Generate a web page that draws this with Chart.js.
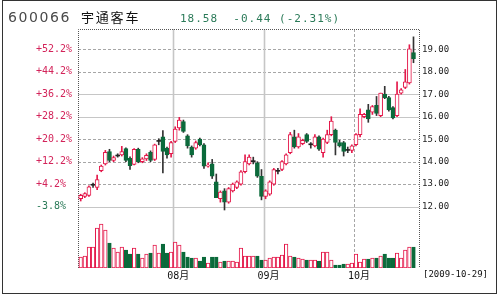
<!DOCTYPE html>
<html>
<head>
<meta charset="utf-8">
<script src="https://cdn.jsdelivr.net/npm/chart.js@4/dist/chart.umd.min.js"></script>
<style>
body { margin: 0; background: #fff; }
#box { position: relative; width: 500px; height: 299px; overflow: hidden; }
#frame { position: absolute; left: 2px; top: 0; width: 493px; height: 292px; border: 1px solid #333; pointer-events: none; }
.t { position: absolute; line-height: 1; white-space: pre; }
#code { left: 8px; top: 9px; font: 14px "DejaVu Sans"; letter-spacing: 1.6px; color: #4a4a4a; }
#name { left: 81px; top: 7px; font: 13px "Noto Sans CJK SC"; letter-spacing: 1.8px; color: #111; }
#quote { left: 180px; top: 12px; font: 11px "DejaVu Sans Mono"; letter-spacing: 1px; color: #2a7a58; }
#date { left: 423px; top: 269px; font: 9px "DejaVu Sans Mono"; color: #111; }
</style>
</head>
<body>
<div id="box">
  <canvas id="c" width="500" height="299"></canvas>
  <div id="frame"></div>
  <div class="t" id="code"></div>
  <div class="t" id="name"></div>
  <div class="t" id="quote"></div>
  <div class="t" id="date"></div>
</div>
<script>
// header texts
const stockCode = '600066';
const stockName = '宇通客车';
const lastPrice = '18.58';
const change = '-0.44';
const changePct = '(-2.31%)';
const lastDate = '[2009-10-29]';

// price base for the left % axis
const basePrice = 12.48;

// daily candles, 2009-07-01 .. 2009-10-29
const open  = [12.35,12.45,12.50,12.95,12.85,13.60,13.90,14.45,14.05,14.25, 14.30,14.58,14.15,13.88,14.55,14.00,14.12,14.42,14.10,14.90,
               15.10,14.60,14.35,14.90,15.50,15.78,15.15,14.65,14.60,15.00, 14.75,13.80,13.90,13.10,12.35,12.70,12.20,12.70,12.85,13.00,
               13.55,13.90,14.00,13.95,13.35,12.45,12.55,13.00,13.57,13.65, 13.90,14.40,15.10,14.65,14.80,15.20,14.75,14.70,15.10,14.40,
               14.85,15.20,15.40,14.85,14.85,14.50,14.50,14.75,15.20,16.00, 16.30,16.20,16.50,16.05,17.00,16.85,16.40,16.05,17.05,17.30,
               17.50,18.85];
const high  = [12.55,12.62,12.92,13.05,13.40,13.85,14.50,14.55,14.25,14.35, 14.68,14.62,14.22,14.58,14.60,14.18,14.35,14.48,14.78,15.02,
               15.38,14.65,14.90,15.55,15.97,15.85,15.20,14.70,14.92,15.05, 14.80,13.95,14.10,13.45,12.70,12.80,12.85,13.05,13.15,13.60,
               14.30,14.30,14.20,14.00,13.65,12.75,13.15,13.70,13.70,14.05, 14.35,15.30,15.40,15.25,15.00,15.25,14.85,15.20,15.15,15.05,
               15.40,16.00,15.45,14.95,14.90,14.65,14.75,15.25,16.35,16.15, 16.55,16.50,16.90,17.05,17.35,16.90,16.45,17.55,17.25,18.10,
               19.20,19.55];
const low   = [12.25,12.40,12.45,12.85,12.75,13.55,13.85,14.00,14.00,14.20, 14.25,14.00,13.65,13.85,13.95,13.95,14.05,14.00,14.05,14.75,
               13.50,14.15,14.20,14.85,15.40,15.30,14.60,14.20,14.55,14.70, 13.70,13.75,13.25,12.40,12.20,11.85,12.15,12.65,12.80,12.95,
               13.50,13.85,13.90,13.30,12.30,12.35,12.50,12.95,13.45,13.60, 13.85,14.35,14.60,14.60,14.75,14.85,14.60,14.65,14.50,14.20,
               14.80,15.15,14.30,14.65,14.25,14.40,14.40,14.70,15.10,15.95, 15.75,16.10,16.05,16.00,16.80,16.25,15.90,16.00,17.00,17.25,
               17.45,18.40];
const close = [12.50,12.58,12.88,12.95,13.20,13.80,14.42,14.05,14.18,14.25, 14.45,14.05,13.82,14.55,14.00,14.12,14.28,14.05,14.75,14.90,
               14.45,14.30,14.85,15.45,15.85,15.35,14.70,14.30,14.85,14.75, 13.80,13.85,13.35,12.40,12.65,12.20,12.80,13.00,13.10,13.55,
               14.00,14.20,14.00,13.35,12.45,12.70,13.10,13.65,13.57,14.00, 14.30,15.20,14.65,15.10,14.95,14.90,14.75,15.10,14.55,15.00,
               15.20,15.80,14.85,14.70,14.45,14.50,14.70,15.20,16.10,16.10, 15.90,16.45,16.15,17.05,16.85,16.30,15.95,17.00,17.20,17.55,
               19.02,18.58];
const volume = [11,12,21,21,40,44,38,25,20,16, 21,18,14,20,14,10,14,15,23,15, 24,15,16,26,23,16,11,10,10,7,
                11,5,11,11,6,7,7,7,6,20, 12,12,12,12,8,8,10,11,11,13, 24,12,11,10,9,8,8,8,7,16,
                16,8,3,3,4,4,5,14,6,9, 9,10,10,12,14,10,10,15,10,18, 21,21];

// x-axis month ticks (index of the first trading day of each month)
const monthLabels = ['08月', '09月', '10月'];
const monthStart = [23, 45, 67];
const monthLineDash = [[], [], [3, 2]];

// price axis ticks
const priceTicks = [12, 13, 14, 15, 16, 17, 18, 19];
const solidTicks = [12, 16, 17];

const RED = '#e4184a';
const GREEN = '#0b6a3b';
const DOJI = '#222';

document.getElementById('code').textContent = stockCode;
document.getElementById('name').textContent = stockName;
document.getElementById('quote').textContent = lastPrice + '  ' + change + ' ' + changePct;
document.getElementById('date').textContent = lastDate;

const idx = close.map((c, i) => i);
const kind = idx.map(i => close[i] > open[i] ? 'up' : close[i] < open[i] ? 'down' : 'doji');

const gridPlugin = {
  id: 'kgrid',
  beforeDatasetsDraw(chart) {
    const { ctx, chartArea: a, scales } = chart;
    ctx.save();
    ctx.lineWidth = 1;
    priceTicks.forEach(v => {
      const y = Math.round(scales.y.getPixelForValue(v)) + 0.5;
      const solid = solidTicks.includes(v);
      ctx.strokeStyle = solid ? '#c6c6c6' : '#a6a6a6';
      ctx.setLineDash(solid ? [] : [3, 2]);
      ctx.beginPath(); ctx.moveTo(a.left, y); ctx.lineTo(a.right, y); ctx.stroke();
    });
    monthStart.forEach((m, k) => {
      const x = Math.round(scales.x.getPixelForValue(m - 0.5)) + 0.5;
      const dash = monthLineDash[k];
      ctx.strokeStyle = dash.length ? '#a6a6a6' : '#c6c6c6';
      ctx.lineWidth = dash.length ? 1 : 1.6;
      ctx.setLineDash(dash);
      ctx.beginPath(); ctx.moveTo(x, a.top); ctx.lineTo(x, a.bottom); ctx.stroke();
    });
    ctx.lineWidth = 1;
    ctx.strokeStyle = '#555';
    ctx.setLineDash([1, 1]);
    const l = Math.round(a.left) + 0.5, r = Math.round(a.right) + 0.5, t = Math.round(a.top) + 0.5;
    ctx.beginPath();
    ctx.moveTo(l, a.bottom); ctx.lineTo(l, t); ctx.lineTo(r, t); ctx.lineTo(r, a.bottom);
    ctx.stroke();
    ctx.restore();
  }
};

const monoFont = { family: '"DejaVu Sans Mono", "Noto Sans CJK SC"', size: 10 };

new Chart(document.getElementById('c'), {
  type: 'bar',
  data: {
    datasets: [
      {
        label: 'body',
        order: 1,
        yAxisID: 'y',
        data: idx.map(i => ({ x: i, y: [open[i], close[i]] })),
        barThickness: 4,
        minBarLength: 1,
        grouped: false,
        borderSkipped: false,
        borderWidth: c => kind[c.dataIndex] === 'doji' ? 0 : 1,
        backgroundColor: c => ({ up: '#fff', down: GREEN, doji: DOJI })[kind[c.dataIndex]],
        borderColor: c => ({ up: RED, down: GREEN, doji: DOJI })[kind[c.dataIndex]]
      },
      {
        label: 'wick',
        order: 2,
        yAxisID: 'y',
        data: idx.map(i => ({ x: i, y: [low[i], high[i]] })),
        barThickness: 1,
        grouped: false,
        borderWidth: 0,
        backgroundColor: c => kind[c.dataIndex] === 'up' ? RED : '#333'
      },
      {
        label: 'volume',
        order: 3,
        yAxisID: 'yVol',
        data: idx.map(i => ({ x: i, y: volume[i] })),
        barThickness: 3.6,
        grouped: false,
        borderSkipped: false,
        borderWidth: 1,
        backgroundColor: c => kind[c.dataIndex] === 'down' ? GREEN : '#fff',
        borderColor: c => kind[c.dataIndex] === 'down' ? GREEN : RED
      }
    ]
  },
  options: {
    responsive: false,
    animation: false,
    devicePixelRatio: 1,
    layout: { padding: { top: 29, left: 36, right: 0, bottom: 0 } },
    plugins: { legend: { display: false }, tooltip: { enabled: false } },
    events: [],
    scales: {
      x: {
        type: 'linear',
        offset: false,
        min: -0.66,
        max: 82.34,
        grid: { display: false, drawTicks: false, offset: false },
        border: { display: false },
        afterBuildTicks: s => { s.ticks = monthStart.map(m => ({ value: m - 0.5 })); },
        afterFit: s => { s.height = 31; },
        ticks: {
          autoSkip: false, maxRotation: 0, padding: 2, labelOffset: 5,
          color: '#111', font: monoFont,
          callback: (v, i) => monthLabels[i]
        }
      },
      y: {
        position: 'right',
        min: 9.27,
        max: 19.9,
        grid: { display: false, drawTicks: false },
        border: { display: false },
        afterBuildTicks: s => { s.ticks = priceTicks.map(v => ({ value: v })); },
        afterFit: s => { s.width = 81; },
        ticks: {
          padding: 3, color: '#222',
          font: { family: '"DejaVu Sans Mono"', size: 9 },
          callback: v => v.toFixed(2)
        }
      },
      yPct: {
        position: 'left',
        min: 9.27,
        max: 19.9,
        grid: { display: false, drawTicks: false },
        border: { display: false },
        afterBuildTicks: s => { s.ticks = priceTicks.map(v => ({ value: v })); },
        afterFit: s => { s.width = 42; },
        ticks: {
          crossAlign: 'far', padding: 0,
          font: monoFont,
          color: c => c.tick.value >= basePrice ? '#d3245a' : '#2a7a58',
          callback: v => {
            const p = (v - basePrice) / basePrice * 100;
            return (p >= 0 ? '+' : '-') + Math.abs(p).toFixed(1) + '%';
          }
        }
      },
      yVol: {
        display: false,
        min: 0,
        max: 239
      }
    }
  },
  plugins: [gridPlugin]
});
</script>
</body>
</html>
